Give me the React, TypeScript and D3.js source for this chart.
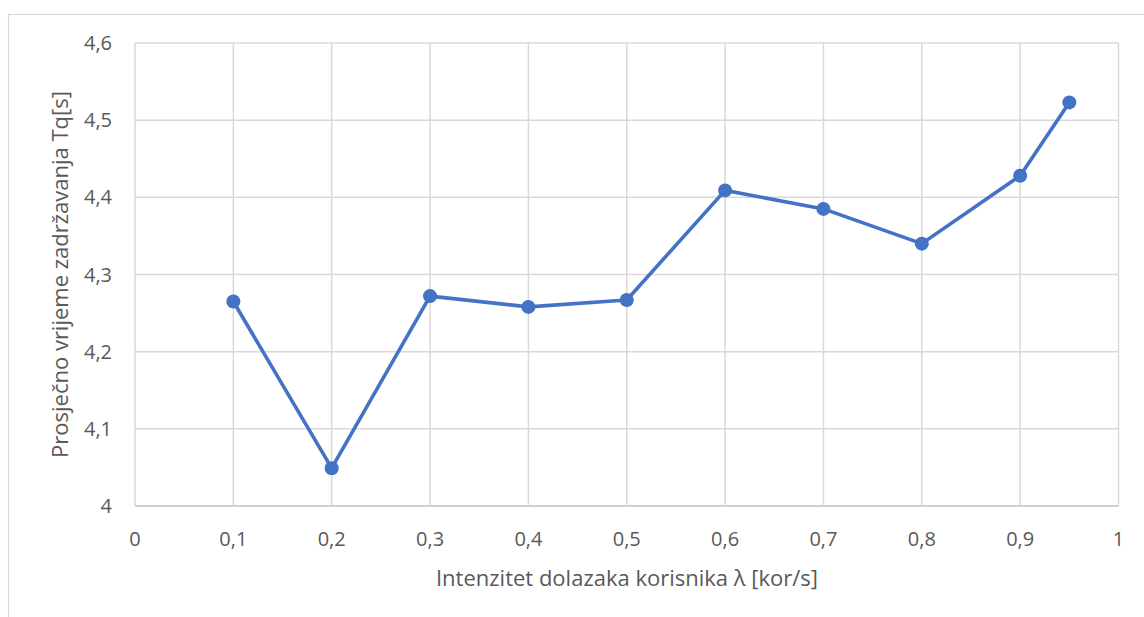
import React from "react";
import * as d3 from "d3";

// Data
const lambdas = [0.1, 0.2, 0.3, 0.4, 0.5, 0.6, 0.7, 0.8, 0.9, 0.95];
const delays = [4.265, 4.049, 4.272, 4.258, 4.267, 4.409, 4.385, 4.340, 4.428, 4.523];
const xTicks = [0, 0.1, 0.2, 0.3, 0.4, 0.5, 0.6, 0.7, 0.8, 0.9, 1];
const yTicks = [4, 4.1, 4.2, 4.3, 4.4, 4.5, 4.6];
const xTitle = "Intenzitet dolazaka korisnika λ [kor/s]";
const yTitle = "Prosječno vrijeme zadržavanja Tq[s]";

const W = 1144;
const H = 617;
const FONT = "'Open Sans', 'Liberation Sans', sans-serif";
const TEXT = "#595959";
const GRID = "#d9d9d9";
const BLUE = "#4472c4";

const fmt = (v: number) => String(+v.toFixed(2)).replace(".", ",");

export default function App() {
  const x = d3.scaleLinear().domain([0, 1]).range([135, 1118.5]);
  const y = d3.scaleLinear().domain([4, 4.6]).range([506, 43]);
  const pts = lambdas.map((l, i) => [l, delays[i]] as [number, number]);
  const line = d3.line<[number, number]>()
    .x((d) => x(d[0]))
    .y((d) => y(d[1]));

  return (
    <svg
      width={W}
      height={H}
      style={{ position: "absolute", left: 0, top: 0, background: "#fff" }}
      fontFamily={FONT}
    >
      <rect x={8.5} y={14.5} width={W + 20} height={H + 20} fill="#fff" stroke={GRID} strokeWidth={1.2} />
      {/* gridlines */}
      {yTicks.map((t) => (
        <line key={"gy" + t} x1={x(0)} x2={x(1)} y1={y(t)} y2={y(t)}
          stroke={t === 4 ? "#bfbfbf" : GRID} strokeWidth={1.5} />
      ))}
      {xTicks.map((t) => (
        <line key={"gx" + t} x1={x(t)} x2={x(t)} y1={y(4.6)} y2={y(4)}
          stroke={GRID} strokeWidth={1.5} />
      ))}
      {/* tick labels */}
      {yTicks.map((t) => (
        <text key={"ly" + t} x={112} y={y(t)} dy="0.35em" textAnchor="end"
          fontSize={20} fill={TEXT}>{fmt(t)}</text>
      ))}
      {xTicks.map((t) => (
        <text key={"lx" + t} x={x(t)} y={539} dy="0.35em" textAnchor="middle"
          fontSize={20} fill={TEXT}>{fmt(t)}</text>
      ))}
      {/* axis titles */}
      <text x={627} y={578} dy="0.35em" textAnchor="middle" fontSize={22} fill={TEXT}>{xTitle}</text>
      <text transform={`translate(60,${(y(4) + y(4.6)) / 2}) rotate(-90)`} dy="0.35em"
        textAnchor="middle" fontSize={22} fill={TEXT}>{yTitle}</text>
      {/* series */}
      <path d={line(pts) || ""} fill="none" stroke={BLUE} strokeWidth={3.6} strokeLinejoin="round" />
      {pts.map((p, i) => (
        <circle key={"m" + i} cx={x(p[0])} cy={y(p[1])} r={7} fill={BLUE} />
      ))}
    </svg>
  );
}
